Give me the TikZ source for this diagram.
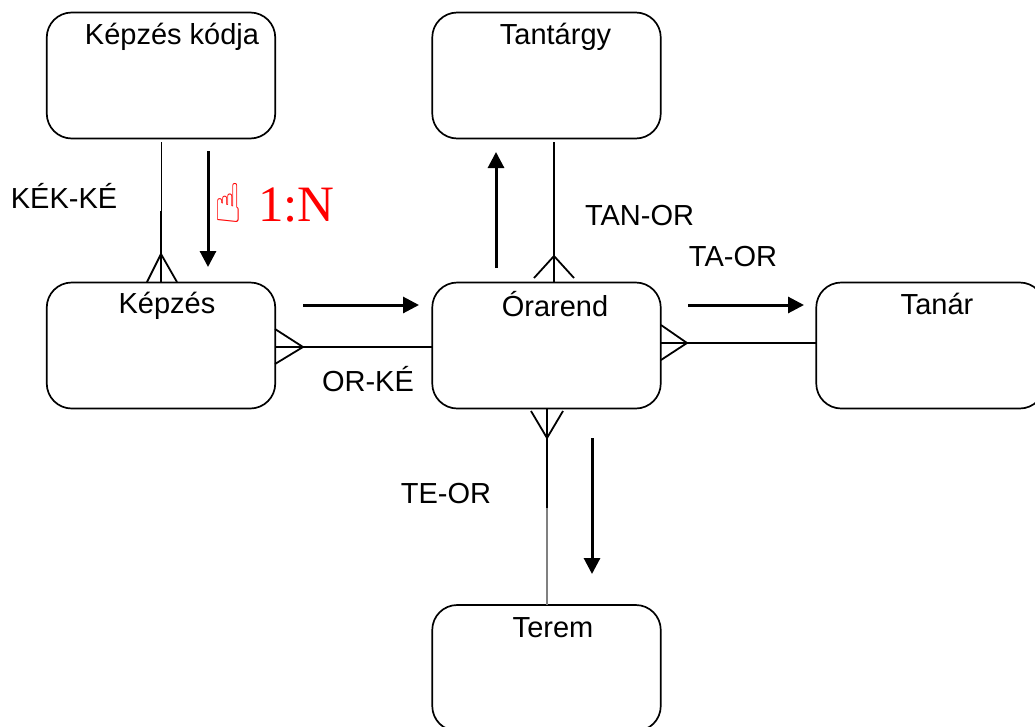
\documentclass[tikz,border=0pt]{standalone}
\usepackage{fontspec}
\setmainfont{Liberation Sans}
\newfontfamily\serifrm{Liberation Serif}
\newfontfamily\handfont{DejaVu Sans}
\usetikzlibrary{arrows.meta}
\tikzset{
  x=1pt,y=-1pt,
  box/.style={draw=black,line width=1.7pt,rounded corners=25pt,minimum width=228.5pt,minimum height=126pt,inner sep=0pt,fill=white},
  txt/.style={inner sep=0pt,font=\fontsize{29}{29}\selectfont,text=black},
  conn/.style={line width=1.8pt,draw=black},
  crow/.style={line width=1.8pt,draw=black,line join=miter},
  flow/.style={line width=3pt,draw=black,-{Triangle[length=16pt,width=16pt]}}
}
\begin{document}
\begin{tikzpicture}
\useasboundingbox (0,0) rectangle (1035,726);
\clip (0,0) rectangle (1035,726);
\fill[white] (0,0) rectangle (1035,726);
% boxes
\node[box] (kk) at (161,75.5) {};
\node[box] (ta) at (546.5,75.5) {};
\node[box] (ke) at (161,345.5) {};
\node[box] (or) at (546.5,345.5) {};
\node[box] (tn) at (930.5,345.5) {};
\node[box] (te) at (546.5,668) {};
% box titles
\node[txt] (tkk) at (172,37) {Képzés kódja};
\node[txt] (tta) at (555.5,37) {Tantárgy};
\node[txt] (tke) at (167,306) {Képzés};
\node[txt] (tor) at (555,304) {Órarend};
\node[txt] (ttn) at (937,304) {Tanár};
\node[txt] (tte) at (553,628) {Terem};
% relationship labels
\node[txt] (l1) at (64,196) {KÉK-KÉ};
\node[txt] (l2) at (639.5,216) {TAN-OR};
\node[txt] (l3) at (733,257) {TA-OR};
\node[txt] (l4) at (368,379) {OR-KÉ};
\node[txt] (l5) at (446,494) {TE-OR};
% cardinality
\node[inner sep=0pt,text=red,xscale=0.85,font=\handfont\fontsize{54}{54}\selectfont] (hand) at (228,203) {☝};
\node[inner sep=0pt,text=red,font=\serifrm\fontsize{51}{51}\selectfont] (card) at (296.5,205) {1:N};
% named connector points
\coordinate (a1) at (161,142);
\coordinate (a2) at (161,211);
\coordinate (a3) at (161,254);
\coordinate (a4) at (147,282);
\coordinate (a5) at (177,282);
\coordinate (b1) at (554,142);
\coordinate (b2) at (554,256);
\coordinate (b3) at (534,278);
\coordinate (b4) at (574,278);
\coordinate (b5) at (554,282);
\coordinate (c1) at (275,347);
\coordinate (c2) at (303,347);
\coordinate (c3) at (275,329);
\coordinate (c4) at (275,364);
\coordinate (c5) at (432,347);
\coordinate (d1) at (661,343);
\coordinate (d2) at (687,343);
\coordinate (d3) at (661,325);
\coordinate (d4) at (661,360);
\coordinate (d5) at (816,343);
\coordinate (e1) at (547,409);
\coordinate (e2) at (547,438);
\coordinate (e3) at (531,411);
\coordinate (e4) at (563,411);
\coordinate (e5) at (547,508);
\coordinate (e6) at (547,605);
% Kepzes kodja - Kepzes
\draw[line width=1pt] (a1) -- (a2);
\draw[conn] (a2) -- (a4 -| a1);
\draw[crow] (a4) -- (a3) -- (a5);
% Tantargy - Orarend
\draw[conn] (b1) -- (b5);
\draw[crow] (b3) -- (b2) -- (b4);
% Orarend - Kepzes
\draw[conn] (c1) -- (c5);
\draw[crow] (c3) -- (c2) -- (c4);
% Orarend - Tanar
\draw[conn] (d1) -- (d5);
\draw[crow] (d3) -- (d2) -- (d4);
% Orarend - Terem
\draw[line width=2.4pt] (e1) -- (e5);
\draw[line width=1.2pt,draw=black!50] (e5) -- (e6);
\draw[crow] (e3) -- (e2) -- (e4);
% flow arrows
\coordinate (f1) at (208,151); \coordinate (f2) at (208,267);
\coordinate (g1) at (496,268); \coordinate (g2) at (496,152);
\coordinate (h1) at (303,305); \coordinate (h2) at (419,305);
\coordinate (i1) at (688,305); \coordinate (i2) at (804,305);
\coordinate (j1) at (592,438); \coordinate (j2) at (592,574);
\draw[flow] (f1) -- (f2);
\draw[flow] (g1) -- (g2);
\draw[flow] (h1) -- (h2);
\draw[flow] (i1) -- (i2);
\draw[flow] (j1) -- (j2);
\end{tikzpicture}
\end{document}
